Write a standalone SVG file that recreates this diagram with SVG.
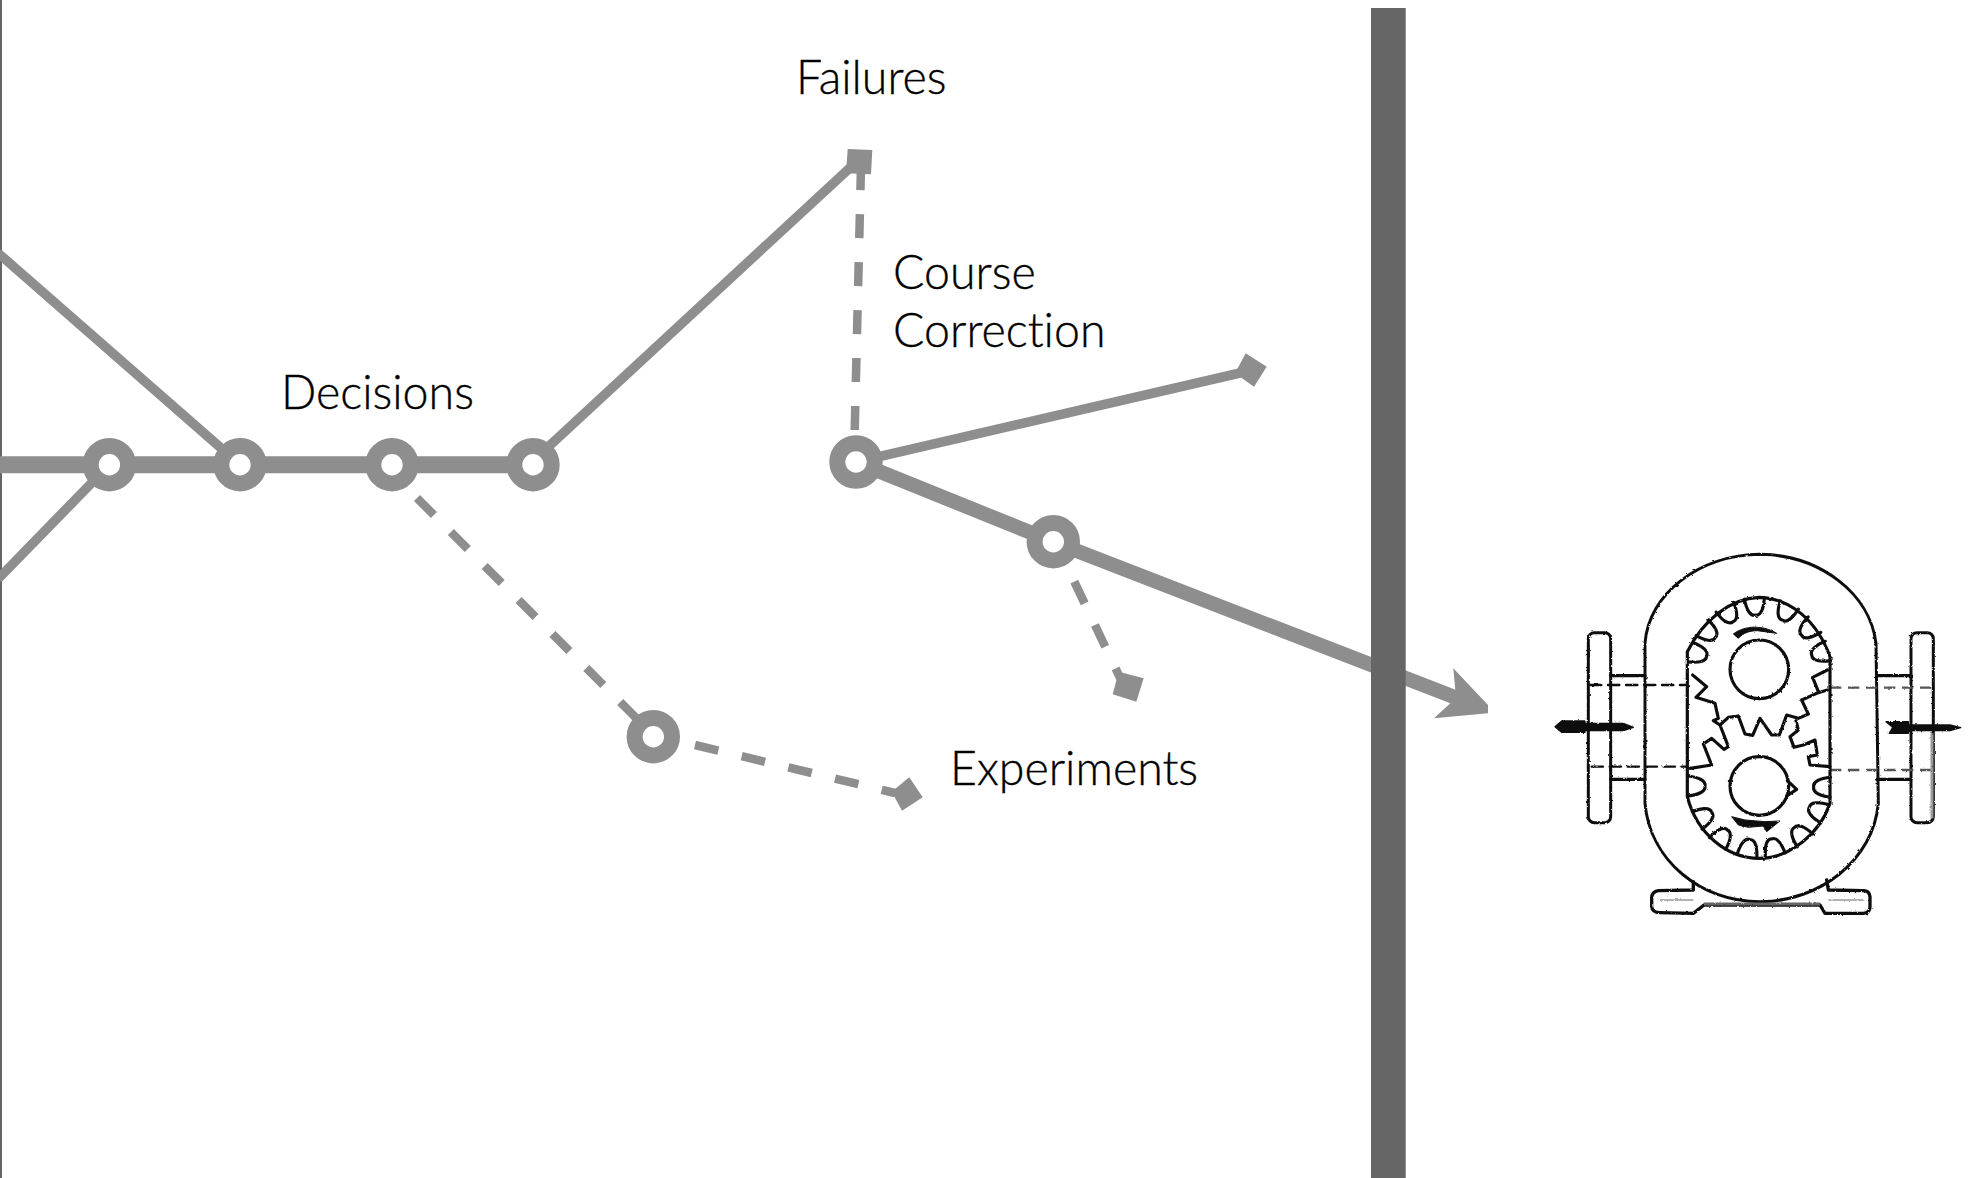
<svg xmlns="http://www.w3.org/2000/svg" xmlns:xlink="http://www.w3.org/1999/xlink" width="1972" height="1178" viewBox="0 0 1972 1178">
<style>
.line{fill:none;stroke:#8e8e8e;stroke-width:9.5}
.thick{fill:none;stroke:#8e8e8e;stroke-width:14.5}
.dash{fill:none;stroke:#8e8e8e;stroke-width:8.5;stroke-dasharray:24 24}
.ring{fill:#fff;stroke:#8e8e8e;stroke-width:16}
.end{fill:#8e8e8e}
.label{font-family:"Lato","Liberation Sans",sans-serif;font-weight:300;font-size:46.5px;fill:#000;stroke:#000;stroke-width:.35;font-variant-ligatures:none}
.ink{fill:none;stroke:#111;stroke-linejoin:round;stroke-linecap:round}
</style>
<defs>
<filter id="soft" x="-5%" y="-5%" width="110%" height="110%">
<feTurbulence type="fractalNoise" baseFrequency="0.35" numOctaves="2" seed="4" result="n"/>
<feDisplacementMap in="SourceGraphic" in2="n" scale="2.4" result="d"/>
<feGaussianBlur in="d" stdDeviation="0.5"/>
</filter>
<path id="notch" d="M-30,-213C-26,-182 -16,-160 0,-163C16,-160 26,-182 30,-213"/>
</defs>
<rect width="1972" height="1178" fill="#fff"/>
<rect id="left-edge" x="0" y="0" width="2" height="1178" fill="#666"/>
<g id="connectors">
<path class="line" d="M-2,253L240,464.7"/>
<path class="line" d="M-2,579L109.4,464.7"/>
<path style="fill:none;stroke:#8e8e8e;stroke-width:17" d="M0,464.7H533"/>
<path class="line" d="M533,461L859,159.4"/>
<path class="dash" d="M854.7,430L861,166"/>
<path class="line" d="M856,462L1240,373"/>
<path class="thick" d="M856,462L1053.3,541.7L1462,700"/>
<path class="dash" d="M417,498L640,722"/>
<path class="dash" d="M695,745L895,793"/>
<path class="dash" d="M1074.3,581.7L1123,684"/>
</g>
<g id="wall"><rect x="1371" y="8" width="34.7" height="1170" fill="#666"/></g>
<polygon id="arrowhead" class="end" points="1453.3,668.3 1488,705 1488,713.3 1434,718.3 1456,698"/>
<g id="node-1"><circle class="ring" cx="109.4" cy="464.7" r="18.7"/></g>
<g id="node-2"><circle class="ring" cx="240" cy="464.7" r="18.7"/></g>
<g id="node-3"><circle class="ring" cx="392" cy="464.7" r="18.7"/></g>
<g id="node-4"><circle class="ring" cx="533" cy="464.7" r="18.7"/></g>
<g id="node-5"><circle class="ring" cx="856" cy="462" r="18.7"/></g>
<g id="node-6"><circle class="ring" cx="1053.3" cy="541.7" r="18.7"/></g>
<g id="node-7"><circle class="ring" cx="653.3" cy="736.7" r="18.7"/></g>
<g id="end-failures"><polygon class="end" points="847.7,149 872.3,150 871,174.3 846,173.3"/></g>
<g id="end-correction"><polygon class="end" points="1245.7,353.3 1266.7,366.7 1254,386.7 1235,373.3"/></g>
<g id="end-branch"><polygon class="end" points="1118.7,671.7 1143.7,678.3 1136.3,701.7 1112.7,694.3"/></g>
<g id="end-experiment"><polygon class="end" points="909.3,777.3 922.7,797.3 902,810.7 891.7,791.7"/></g>
<g id="label-failures"><text class="label" x="796" y="94">Failures</text></g>
<g id="label-course"><text class="label" x="893" y="288.5">Course</text><text class="label" x="893" y="346.7">Correction</text></g>
<g id="label-decisions"><text class="label" x="281" y="409">Decisions</text></g>
<g id="label-experiments"><text class="label" x="950" y="784.5">Experiments</text></g>
<g id="pump" filter="url(#soft)">
<g transform="translate(1520,520) scale(0.33333)">
<path class="ink" stroke-width="9" d="M375,370C385,220 540,105 720,103C900,105 1050,220 1068,370L1075,850C1060,1020 900,1145 720,1145C540,1145 390,1020 375,850Z"/>
<rect class="ink" stroke-width="9" x="205" y="338" width="67" height="570" rx="18"/>
<rect class="ink" stroke-width="9" x="1173" y="338" width="67" height="570" rx="18"/>
<path class="ink" stroke-width="10" d="M272,467H375M272,778H375M1070,467H1173M1070,778H1173"/>
<path class="ink" stroke-width="7" stroke-dasharray="34 20" stroke-linecap="butt" d="M210,495H495M215,740H500"/>
<path fill="none" stroke="#555" stroke-width="7" stroke-dasharray="34 20" d="M930,503H1240M930,750H1240"/>
<path fill="none" stroke="#999" stroke-width="9" d="M1236,640V895"/>
<path class="ink" stroke-width="10" d="M520,1085V1110L415,1112Q395,1115 395,1135V1160Q397,1178 420,1178L520,1180L552,1155H900L915,1180H1030Q1050,1178 1050,1160V1130Q1048,1112 1030,1112L925,1110L920,1080"/>
<path fill="none" stroke="#666" stroke-width="9" d="M552,1152H900"/>
<path fill="none" stroke="#999" stroke-width="5" d="M420,1140H520M925,1140H1030"/>
<path fill="#111" stroke="#111" stroke-width="4" stroke-linejoin="round" d="M105,620L125,603H195V637H125ZM195,610H310L340,622L310,632H195Z"/>
<path fill="#111" stroke="#111" stroke-width="4" stroke-linejoin="round" d="M1098,605H1165V640H1108L1118,622ZM1165,615H1290L1322,623L1290,632H1165Z"/>
</g>
<g transform="translate(1670,590) scale(0.33333)">
<g class="ink" stroke-width="9.5">
<path d="M52,185C100,90 180,25 268,22C360,25 440,90 480,200L480,640C450,730 360,805 268,805C170,805 80,730 52,620Z"/>
<circle cx="268" cy="238" r="88"/>
<circle cx="268" cy="588" r="88"/>
<path d="M352,572L380,598L350,618"/>
<g transform="translate(268,238)">
<use xlink:href="#notch" transform="rotate(-4)"/>
<use xlink:href="#notch" transform="rotate(25)"/>
<use xlink:href="#notch" transform="rotate(51)"/>
<use xlink:href="#notch" transform="rotate(75)"/>
<use xlink:href="#notch" transform="rotate(-29)"/>
<use xlink:href="#notch" transform="rotate(-54)"/>
<use xlink:href="#notch" transform="rotate(-76)"/>
</g>
<g transform="translate(268,588)">
<use xlink:href="#notch" transform="rotate(91)"/>
<use xlink:href="#notch" transform="rotate(113)"/>
<use xlink:href="#notch" transform="rotate(140)"/>
<use xlink:href="#notch" transform="rotate(167)"/>
<use xlink:href="#notch" transform="rotate(190)"/>
<use xlink:href="#notch" transform="rotate(-144)"/>
<use xlink:href="#notch" transform="rotate(-119)"/>
<use xlink:href="#notch" transform="rotate(-90)"/>
</g>
<path d="M68,255L110,290L78,322L135,340L145,385L130,392L150,405L175,382L205,378L225,432L248,436L270,385L305,435L328,435L350,375L385,385L415,372L395,330L440,310L472,300M472,240L428,262L445,305"/>
<path d="M60,535L125,525L100,462L125,445L162,478L175,470L150,405M480,530L420,525L415,500L442,495L435,450L400,465L372,472L360,440L385,420L378,392"/>
</g>
<path fill="#111" stroke="#111" stroke-width="3" stroke-linejoin="round" d="M190,132C225,105 280,105 320,130L262,122C240,122 220,128 205,145Z"/>
<path fill="#111" stroke="#111" stroke-width="3" stroke-linejoin="round" d="M185,680L225,690L285,695L330,693L290,725L280,708L235,712L205,705Z"/>
</g>
</g>
</svg>
